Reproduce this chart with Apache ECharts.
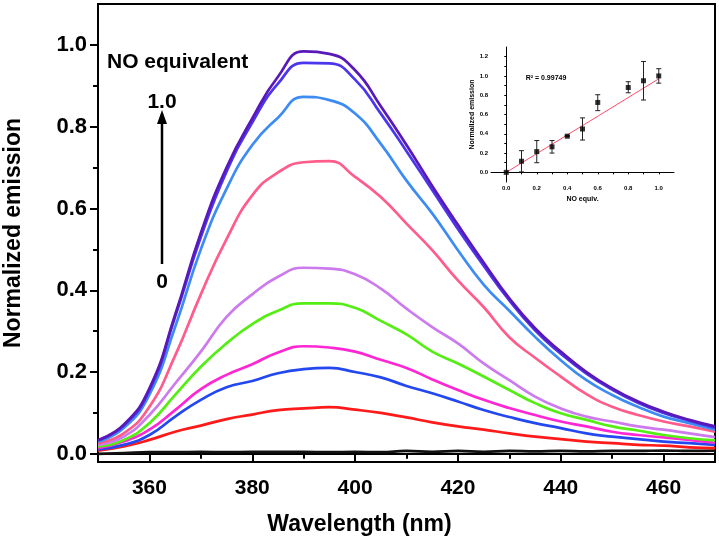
<!DOCTYPE html>
<html>
<head>
<meta charset="utf-8">
<script src="https://cdn.jsdelivr.net/npm/echarts@6/dist/echarts.min.js"></script>
<style>
  html, body { margin: 0; padding: 0; background: #fff; }
  #main { width: 719px; height: 539px; }
</style>
</head>
<body>
<div id="main"></div>
<script>
// wavelength grid (nm)
var wavelength = [350, 355, 360, 365, 370, 375, 380, 385, 390, 395, 400, 405, 410,
                  415, 420, 425, 430, 435, 440, 445, 450, 455, 460, 465, 470];

// normalized emission per NO equivalent (0.7 not measured)
var em00 = [0.000, 0.002, 0.004, 0.004, 0.005, 0.004, 0.005, 0.005, 0.005, 0.004, 0.005, 0.004, 0.007,
            0.005, 0.007, 0.005, 0.007, 0.006, 0.007, 0.006, 0.007, 0.007, 0.008, 0.007, 0.008];
var em01 = [0.008, 0.018, 0.034, 0.054, 0.069, 0.085, 0.096, 0.107, 0.111, 0.114, 0.108, 0.100, 0.089,
            0.077, 0.067, 0.059, 0.050, 0.042, 0.036, 0.030, 0.026, 0.022, 0.020, 0.016, 0.014];
var em02 = [0.011, 0.022, 0.046, 0.091, 0.132, 0.163, 0.178, 0.197, 0.207, 0.210, 0.200, 0.187, 0.166,
            0.148, 0.128, 0.107, 0.090, 0.075, 0.063, 0.050, 0.042, 0.036, 0.030, 0.026, 0.022];
var em03 = [0.014, 0.030, 0.059, 0.107, 0.158, 0.193, 0.219, 0.248, 0.263, 0.260, 0.250, 0.230, 0.210,
            0.182, 0.156, 0.132, 0.112, 0.095, 0.079, 0.067, 0.054, 0.046, 0.040, 0.034, 0.027];
var em04 = [0.018, 0.034, 0.075, 0.144, 0.213, 0.270, 0.317, 0.350, 0.368, 0.368, 0.357, 0.325, 0.292,
            0.250, 0.221, 0.189, 0.156, 0.124, 0.099, 0.083, 0.067, 0.057, 0.046, 0.038, 0.033];
var em05 = [0.022, 0.042, 0.095, 0.172, 0.250, 0.335, 0.390, 0.433, 0.455, 0.453, 0.439, 0.404, 0.355,
            0.310, 0.270, 0.221, 0.180, 0.140, 0.111, 0.091, 0.079, 0.067, 0.059, 0.050, 0.041];
var em06 = [0.026, 0.050, 0.115, 0.240, 0.390, 0.525, 0.632, 0.688, 0.713, 0.716, 0.677, 0.628, 0.563,
            0.498, 0.424, 0.359, 0.285, 0.235, 0.189, 0.146, 0.115, 0.095, 0.079, 0.067, 0.054];
var em08 = [0.030, 0.063, 0.145, 0.310, 0.500, 0.648, 0.755, 0.822, 0.873, 0.865, 0.832, 0.758, 0.668,
            0.588, 0.498, 0.414, 0.350, 0.286, 0.229, 0.180, 0.144, 0.115, 0.091, 0.075, 0.059];
var em09 = [0.033, 0.069, 0.155, 0.335, 0.530, 0.690, 0.810, 0.905, 0.956, 0.955, 0.915, 0.832, 0.740,
            0.645, 0.550, 0.460, 0.375, 0.302, 0.245, 0.196, 0.157, 0.125, 0.100, 0.081, 0.064];
var em10 = [0.034, 0.071, 0.160, 0.340, 0.540, 0.700, 0.820, 0.922, 0.984, 0.978, 0.938, 0.850, 0.755,
            0.655, 0.560, 0.468, 0.380, 0.307, 0.250, 0.200, 0.160, 0.128, 0.103, 0.083, 0.067];

// main axis ticks
var xMajor = [360, 380, 400, 420, 440, 460];
var xMinor = [370, 390, 410, 430, 450];
var yMajor = [0, 0.2, 0.4, 0.6, 0.8, 1.0];
var yMinor = [0.1, 0.3, 0.5, 0.7, 0.9];

// inset: emission at peak vs NO equivalents
var noEquiv  = [0, 0.1, 0.2, 0.3, 0.4, 0.5, 0.6, 0.8, 0.9, 1.0];
var peakEm   = [0.000, 0.115, 0.215, 0.265, 0.375, 0.450, 0.725, 0.880, 0.950, 1.000];
var errLow   = [0.000, 0.005, 0.100, 0.200, 0.370, 0.335, 0.640, 0.825, 0.750, 0.925];
var errHigh  = [0.000, 0.225, 0.330, 0.330, 0.380, 0.565, 0.805, 0.940, 1.150, 1.075];
var fitX     = [0, 1.0];
var fitY     = [0, 0.97];
var insetXTicks = [0, 0.2, 0.4, 0.6, 0.8, 1.0];
var insetXAll   = [0, 0.1, 0.2, 0.3, 0.4, 0.5, 0.6, 0.7, 0.8, 0.9, 1.0];
var insetYTicks = [0, 0.2, 0.4, 0.6, 0.8, 1.0, 1.2];
var insetYAll   = [0, 0.1, 0.2, 0.3, 0.4, 0.5, 0.6, 0.7, 0.8, 0.9, 1.0, 1.1, 1.2];

var curves = [em00, em01, em02, em03, em04, em05, em06, em08, em09, em10];
var curveNames = ['0', '0.1', '0.2', '0.3', '0.4', '0.5', '0.6', '0.8', '0.9', '1.0'];
var colors = ['#111111', '#ff1a1a', '#2448f0', '#ff26d4', '#55ee14', '#cc7aee',
              '#ff5c8c', '#3d8cf4', '#4b36ee', '#5a18b8'];

var FONT = '"Liberation Sans", Arial, sans-serif';

var chart = echarts.init(document.getElementById('main'));

var series = curves.map(function (vals, k) {
    return {
        name: curveNames[k],
        type: 'line',
        xAxisIndex: 0,
        yAxisIndex: 0,
        smooth: 0.5,
        showSymbol: false,
        symbol: 'none',
        lineStyle: { color: colors[k], width: 2.7 },
        data: wavelength.map(function (w, i) { return [w, vals[i]]; })
    };
});

series.push({
    type: 'line',
    xAxisIndex: 2,
    yAxisIndex: 2,
    symbol: 'none',
    lineStyle: { color: '#ff4d6a', width: 1 },
    data: fitX.map(function (x, i) { return [x, fitY[i]]; }),
    z: 3
});
series.push({
    type: 'custom',
    xAxisIndex: 2,
    yAxisIndex: 2,
    renderItem: function (params, api) {
        var top = api.coord([api.value(0), api.value(2)]);
        var bot = api.coord([api.value(0), api.value(1)]);
        var w = 2.5;
        var st = { stroke: '#222', lineWidth: 1 };
        return {
            type: 'group',
            children: [
                { type: 'line', shape: { x1: top[0], y1: top[1], x2: bot[0], y2: bot[1] }, style: st },
                { type: 'line', shape: { x1: top[0] - w, y1: top[1], x2: top[0] + w, y2: top[1] }, style: st },
                { type: 'line', shape: { x1: bot[0] - w, y1: bot[1], x2: bot[0] + w, y2: bot[1] }, style: st }
            ]
        };
    },
    encode: { x: 0, y: [1, 2] },
    data: noEquiv.map(function (x, i) { return [x, errLow[i], errHigh[i]]; }),
    z: 4
});
series.push({
    type: 'scatter',
    xAxisIndex: 2,
    yAxisIndex: 2,
    symbol: 'rect',
    symbolSize: 5,
    itemStyle: { color: '#000' },
    data: noEquiv.map(function (x, i) { return [x, peakEm[i]]; }),
    z: 5
});

chart.setOption({
    animation: false,
    backgroundColor: '#fff',
    textStyle: { fontFamily: FONT },
    grid: [
        { left: 98, right: 4, top: 4, bottom: 77, show: true, borderColor: '#000', borderWidth: 2,
          backgroundColor: 'transparent', containLabel: false, outerBoundsMode: 'none' },
        { left: 491, right: 45, top: 47, bottom: 357, containLabel: false, outerBoundsMode: 'none' }
    ],
    xAxis: [
        {
            gridIndex: 0, type: 'value', min: 350, max: 470, position: 'bottom',
            axisLine: { lineStyle: { color: '#000', width: 2 } },
            axisTick: { customValues: xMajor, length: 8, lineStyle: { color: '#000', width: 2 } },
            axisLabel: { customValues: xMajor, color: '#000', fontSize: 21, fontWeight: 'bold',
                         fontFamily: FONT, margin: 16 },
            splitLine: { show: false },
            name: 'Wavelength (nm)', nameLocation: 'middle', nameGap: 51,
            nameTextStyle: { color: '#000', fontSize: 23, fontWeight: 'bold', fontFamily: FONT,
                             padding: [0, 94, 0, 0] }
        },
        {
            gridIndex: 0, type: 'value', min: 350, max: 470, position: 'bottom',
            axisLine: { show: false },
            axisTick: { customValues: xMinor, length: 5, lineStyle: { color: '#000', width: 2 } },
            axisLabel: { show: false },
            splitLine: { show: false }
        },
        {
            gridIndex: 1, type: 'value', min: -0.1, max: 1.1, position: 'bottom',
            axisLine: { lineStyle: { color: '#000', width: 1 } },
            axisTick: { customValues: insetXAll, length: 2, lineStyle: { color: '#000', width: 1 } },
            axisLabel: { customValues: insetXTicks, color: '#000', fontSize: 6, fontWeight: 'bold',
                         margin: 3, formatter: function (v) { return v.toFixed(1); } },
            splitLine: { show: false },
            name: 'NO equiv.', nameLocation: 'middle', nameGap: 14,
            nameTextStyle: { color: '#000', fontSize: 7, fontWeight: 'bold' }
        }
    ],
    yAxis: [
        {
            gridIndex: 0, type: 'value', min: -0.02, max: 1.1, position: 'left',
            axisLine: { lineStyle: { color: '#000', width: 2 } },
            axisTick: { customValues: yMajor, length: 8, lineStyle: { color: '#000', width: 2 } },
            axisLabel: { customValues: yMajor, color: '#000', fontSize: 22, fontWeight: 'bold',
                         fontFamily: FONT, margin: 11,
                         formatter: function (v) { return v.toFixed(1); } },
            splitLine: { show: false },
            name: 'Normalized emission', nameLocation: 'middle', nameGap: 73,
            nameTextStyle: { color: '#000', fontSize: 23, fontWeight: 'bold', fontFamily: FONT }
        },
        {
            gridIndex: 0, type: 'value', min: -0.02, max: 1.1, position: 'left',
            axisLine: { show: false },
            axisTick: { customValues: yMinor, length: 5, lineStyle: { color: '#000', width: 2 } },
            axisLabel: { show: false },
            splitLine: { show: false }
        },
        {
            gridIndex: 1, type: 'value', min: -0.1, max: 1.3, position: 'left',
            axisLine: { lineStyle: { color: '#000', width: 1 } },
            axisTick: { customValues: insetYAll, length: 2, lineStyle: { color: '#000', width: 1 } },
            axisLabel: { customValues: insetYTicks, color: '#000', fontSize: 6, fontWeight: 'bold',
                         margin: 3, formatter: function (v) { return v.toFixed(1); } },
            splitLine: { show: false },
            name: 'Normalized emission', nameLocation: 'middle', nameGap: 14,
            nameTextStyle: { color: '#000', fontSize: 7, fontWeight: 'bold' }
        }
    ],
    graphic: [
        { type: 'text', left: 107, top: 52,
          style: { text: 'NO equivalent', fill: '#000', font: 'bold 21px ' + FONT } },
        { type: 'text', x: 162, y: 102,
          style: { text: '1.0', fill: '#000', font: 'bold 21px ' + FONT, align: 'center', verticalAlign: 'middle' } },
        { type: 'text', x: 162, y: 282,
          style: { text: '0', fill: '#000', font: 'bold 21px ' + FONT, align: 'center', verticalAlign: 'middle' } },
        { type: 'line', shape: { x1: 162, y1: 264, x2: 162, y2: 122 },
          style: { stroke: '#000', lineWidth: 2.5 } },
        { type: 'polygon', shape: { points: [[162, 110], [157, 124], [167, 124]] },
          style: { fill: '#000' } },
        { type: 'text', x: 546, y: 78,
          style: { text: 'R² = 0.99749', fill: '#000', font: 'bold 7px ' + FONT, align: 'center', verticalAlign: 'middle' } }
    ],
    series: series
});
</script>
</body>
</html>
